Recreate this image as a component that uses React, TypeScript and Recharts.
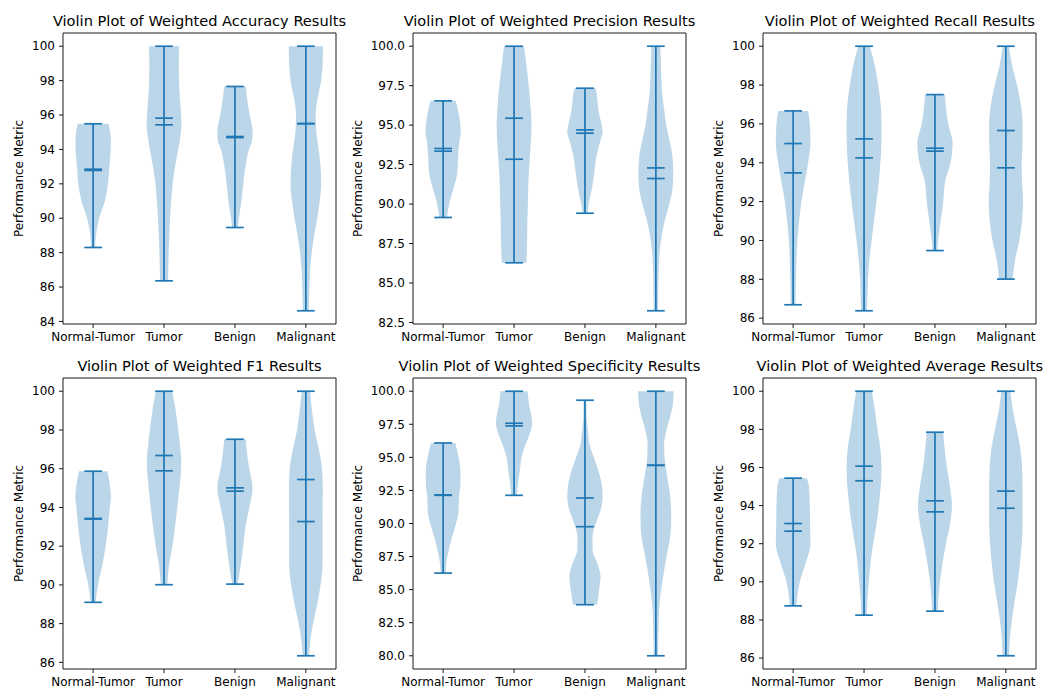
import React from 'react';
import { ComposedChart, Area, XAxis, YAxis, ReferenceLine, ReferenceArea } from 'recharts';

// ---------- shared labels ----------
const categories = ['Normal-Tumor', 'Tumor', 'Benign', 'Malignant'];
const positions = [1, 2, 3, 4];
const titles = [
  'Violin Plot of Weighted Accuracy Results',
  'Violin Plot of Weighted Precision Results',
  'Violin Plot of Weighted Recall Results',
  'Violin Plot of Weighted F1 Results',
  'Violin Plot of Weighted Specificity Results',
  'Violin Plot of Weighted Average Results',
];
const yAxisLabel = 'Performance Metric';

// ---------- tick labels ----------
const ticksTwo84 = [84, 86, 88, 90, 92, 94, 96, 98, 100];
const ticksTwo86 = [86, 88, 90, 92, 94, 96, 98, 100];
const ticksHalf825 = [82.5, 85, 87.5, 90, 92.5, 95, 97.5, 100];
const ticksHalf80 = [80, 82.5, 85, 87.5, 90, 92.5, 95, 97.5, 100];

type Shape = [number, number][]; // [value, half width of violin]

// ---------- Accuracy ----------
const accuracyMin = [88.3, 86.36, 89.46, 84.62];
const accuracyMax = [95.49, 100, 97.66, 100];
const accuracyMean = [92.85, 95.82, 94.75, 95.5];
const accuracyMedian = [92.78, 95.43, 94.69, 95.5];
const accuracyShapes: Shape[] = [
  [[95.49, 0.218], [95, 0.24], [94.5, 0.25], [94, 0.248], [93, 0.228], [92, 0.21], [91, 0.165], [90, 0.085], [89, 0.04], [88.3, 0.03]],
  [[100, 0.213], [99, 0.208], [98, 0.21], [97, 0.223], [96, 0.24], [95.5, 0.246], [95, 0.238], [94, 0.2], [93, 0.155], [92, 0.122], [91, 0.1], [90, 0.085], [89, 0.075], [88, 0.065], [87, 0.06], [86.36, 0.056]],
  [[97.66, 0.153], [97, 0.169], [96, 0.207], [95, 0.25], [94.5, 0.242], [94, 0.198], [93, 0.148], [92, 0.117], [91, 0.092], [90, 0.055], [89.46, 0.04]],
  [[100, 0.242], [99, 0.237], [98, 0.216], [97, 0.168], [96, 0.138], [95, 0.148], [94, 0.181], [93, 0.207], [92, 0.216], [91, 0.195], [90, 0.16], [89, 0.117], [88, 0.082], [87, 0.06], [86, 0.05], [85, 0.044], [84.62, 0.042]],
];

// ---------- Precision ----------
const precisionMin = [89.15, 86.28, 89.42, 83.24];
const precisionMax = [96.54, 100, 97.34, 100];
const precisionMean = [93.52, 95.44, 94.7, 92.29];
const precisionMedian = [93.35, 92.84, 94.49, 91.62];
const precisionShapes: Shape[] = [
  [[96.54, 0.176], [96, 0.207], [95, 0.244], [94.5, 0.249], [94, 0.23], [93, 0.211], [92, 0.2], [91, 0.146], [90, 0.085], [89.15, 0.054]],
  [[100, 0.141], [99, 0.169], [98, 0.195], [97, 0.218], [96, 0.235], [95, 0.246], [94, 0.237], [93, 0.223], [92, 0.209], [91, 0.2], [90, 0.195], [89, 0.188], [88, 0.185], [87, 0.181], [86.28, 0.171]],
  [[97.34, 0.15], [97, 0.164], [96, 0.188], [95, 0.235], [94.6, 0.249], [94, 0.216], [93, 0.16], [92, 0.131], [91, 0.099], [90, 0.052], [89.42, 0.035]],
  [[100, 0.063], [99, 0.07], [98, 0.077], [97, 0.089], [96, 0.117], [95, 0.146], [94, 0.195], [93, 0.235], [92, 0.246], [91, 0.235], [90, 0.19], [89, 0.129], [88, 0.082], [87, 0.054], [86, 0.042], [85, 0.035], [84, 0.033], [83.24, 0.033]],
];

// ---------- Recall ----------
const recallMin = [86.69, 86.38, 89.48, 88.01];
const recallMax = [96.67, 100, 97.51, 100];
const recallMean = [94.99, 95.23, 94.75, 95.66];
const recallMedian = [93.48, 94.25, 94.6, 93.74];
const recallShapes: Shape[] = [
  [[96.67, 0.211], [96, 0.235], [95, 0.244], [94, 0.211], [93, 0.164], [92, 0.117], [91, 0.085], [90, 0.059], [89, 0.047], [88, 0.04], [87, 0.035], [86.69, 0.033]],
  [[100, 0.082], [99, 0.153], [98, 0.2], [97, 0.235], [96, 0.246], [95, 0.244], [94, 0.23], [93, 0.207], [92, 0.176], [91, 0.141], [90, 0.106], [89, 0.075], [88, 0.056], [87, 0.047], [86.38, 0.04]],
  [[97.51, 0.141], [97, 0.15], [96, 0.188], [95, 0.249], [94, 0.22], [93, 0.141], [92, 0.117], [91, 0.08], [90, 0.045], [89.48, 0.035]],
  [[100, 0.042], [99, 0.089], [98, 0.157], [97, 0.211], [96, 0.235], [95, 0.235], [94, 0.223], [93, 0.228], [92, 0.242], [91, 0.228], [90, 0.19], [89, 0.129], [88.01, 0.094]],
];

// ---------- F1 ----------
const f1Min = [89.1, 90.01, 90.04, 86.34];
const f1Max = [95.87, 100, 97.52, 100];
const f1Mean = [93.43, 96.68, 95.01, 95.44];
const f1Median = [93.4, 95.89, 94.84, 93.27];
const f1Shapes: Shape[] = [
  [[95.87, 0.2], [95, 0.242], [94.5, 0.251], [94, 0.235], [93, 0.211], [92, 0.176], [91, 0.129], [90, 0.068], [89.1, 0.035]],
  [[100, 0.117], [99, 0.164], [98, 0.2], [97, 0.23], [96.5, 0.242], [96, 0.24], [95, 0.216], [94, 0.188], [93, 0.155], [92, 0.117], [91, 0.07], [90.01, 0.047]],
  [[97.52, 0.153], [97, 0.164], [96, 0.202], [95, 0.249], [94, 0.202], [93, 0.148], [92, 0.117], [91, 0.08], [90.04, 0.04]],
  [[100, 0.059], [99, 0.087], [98, 0.124], [97, 0.183], [96, 0.228], [95, 0.239], [94, 0.237], [93, 0.235], [92, 0.235], [91, 0.235], [90, 0.207], [89, 0.16], [88, 0.101], [87, 0.059], [86.34, 0.045]],
];

// ---------- Specificity ----------
const specificityMin = [86.25, 92.13, 83.86, 80];
const specificityMax = [96.09, 100, 99.32, 100];
const specificityMean = [92.16, 97.58, 91.93, 94.4];
const specificityMedian = [92.13, 97.38, 89.76, 94.4];
const specificityShapes: Shape[] = [
  [[96.09, 0.171], [95, 0.218], [94, 0.244], [93, 0.244], [92, 0.223], [91, 0.218], [90, 0.183], [89, 0.127], [88, 0.08], [87, 0.045], [86.25, 0.035]],
  [[100, 0.192], [99, 0.211], [98, 0.249], [97.5, 0.254], [97, 0.235], [96, 0.164], [95, 0.106], [94, 0.082], [93, 0.054], [92.13, 0.042]],
  [[99.32, 0.02], [98, 0.023], [97, 0.042], [96, 0.063], [95, 0.124], [94, 0.188], [93, 0.235], [92, 0.249], [91, 0.22], [90, 0.153], [89, 0.106], [88, 0.108], [87, 0.174], [86, 0.22], [85, 0.2], [84, 0.174], [83.86, 0.17]],
  [[100, 0.251], [99, 0.239], [98, 0.197], [97, 0.146], [96, 0.117], [95, 0.122], [94, 0.146], [93, 0.176], [92, 0.202], [91, 0.216], [90, 0.216], [89, 0.202], [88, 0.169], [87, 0.134], [86, 0.103], [85, 0.075], [84, 0.054], [83, 0.042], [82, 0.038], [81, 0.033], [80, 0.033]],
];

// ---------- Average ----------
const averageMin = [88.74, 88.25, 88.46, 86.12];
const averageMax = [95.44, 100, 97.85, 100];
const averageMean = [93.06, 96.07, 94.25, 94.76];
const averageMedian = [92.66, 95.3, 93.67, 93.86];
const averageShapes: Shape[] = [
  [[95.44, 0.192], [95, 0.223], [94, 0.235], [93, 0.239], [92, 0.244], [91, 0.178], [90, 0.094], [89, 0.052], [88.74, 0.045]],
  [[100, 0.11], [99, 0.153], [98, 0.188], [97, 0.23], [96, 0.246], [95, 0.235], [94, 0.209], [93, 0.174], [92, 0.129], [91, 0.092], [90, 0.068], [89, 0.047], [88.25, 0.038]],
  [[97.85, 0.117], [97, 0.136], [96, 0.169], [95, 0.211], [94, 0.239], [93, 0.211], [92, 0.155], [91, 0.108], [90, 0.07], [89, 0.047], [88.46, 0.04]],
  [[100, 0.063], [99, 0.099], [98, 0.153], [97, 0.204], [96, 0.228], [95, 0.235], [94, 0.235], [93, 0.235], [92, 0.223], [91, 0.2], [90, 0.169], [89, 0.124], [88, 0.085], [87, 0.056], [86.12, 0.047]],
];

// ---------- panels table ----------
interface Panel {
  title: string;
  mins: number[];
  maxs: number[];
  means: number[];
  medians: number[];
  shapes: Shape[];
  ticks: number[];
  decimals: number;
}
const panels: Panel[] = [
  { title: titles[0], mins: accuracyMin, maxs: accuracyMax, means: accuracyMean, medians: accuracyMedian, shapes: accuracyShapes, ticks: ticksTwo84, decimals: 0 },
  { title: titles[1], mins: precisionMin, maxs: precisionMax, means: precisionMean, medians: precisionMedian, shapes: precisionShapes, ticks: ticksHalf825, decimals: 1 },
  { title: titles[2], mins: recallMin, maxs: recallMax, means: recallMean, medians: recallMedian, shapes: recallShapes, ticks: ticksTwo86, decimals: 0 },
  { title: titles[3], mins: f1Min, maxs: f1Max, means: f1Mean, medians: f1Median, shapes: f1Shapes, ticks: ticksTwo86, decimals: 0 },
  { title: titles[4], mins: specificityMin, maxs: specificityMax, means: specificityMean, medians: specificityMedian, shapes: specificityShapes, ticks: ticksHalf80, decimals: 1 },
  { title: titles[5], mins: averageMin, maxs: averageMax, means: averageMean, medians: averageMedian, shapes: averageShapes, ticks: ticksTwo86, decimals: 0 },
];

// ---------- layout ----------
const FONT = '"DejaVu Sans", sans-serif';
const C0 = '#1f77b4';
const COL_LEFT = [63, 413, 763.3];
const ROW_TOP = [33.3, 378.3];
const PLOT_W = 273;
const PLOT_H = 291;
const AX_W = 70;
const TOP_M = 30;
const AX_H = 40;
const RIGHT_M = 10;
const CAP = 0.125;
const X_DOMAIN: [number, number] = [0.575, 4.425];
const TICK_FS = 12;
const TITLE_FS = 14.6;

function ViolinPanel({ p, left, top }: { p: Panel; left: number; top: number }) {
  const lo = Math.min(...p.mins);
  const hi = Math.max(...p.maxs);
  const pad = (hi - lo) * 0.05;
  const yDomain: [number, number] = [lo - pad, hi + pad];
  const labelGap = p.decimals ? 55.3 : 43.8;
  const lineProps = { stroke: C0, strokeWidth: 1.7, ifOverflow: 'visible' as const };
  return (
    <>
      <div
        style={{
          position: 'absolute',
          left: left + PLOT_W / 2 - 200,
          width: 400,
          top: top - 7 - 13.05,
          textAlign: 'center',
          fontFamily: FONT,
          fontSize: TITLE_FS,
          lineHeight: '16px',
          whiteSpace: 'nowrap',
          color: '#000',
        }}
      >
        {p.title}
      </div>
      <div style={{ position: 'absolute', left: left - AX_W, top: top - TOP_M }}>
        <ComposedChart
          layout="vertical"
          width={PLOT_W + AX_W + RIGHT_M}
          height={PLOT_H + TOP_M + AX_H}
          margin={{ top: TOP_M, right: RIGHT_M, bottom: 0, left: 0 }}
        >
          <XAxis
            type="number"
            domain={X_DOMAIN}
            allowDataOverflow
            ticks={positions}
            interval={0}
            tickFormatter={(v: number) => categories[Math.round(v) - 1]}
            height={AX_H}
            axisLine={false}
            tickLine={{ stroke: '#000', strokeWidth: 0.9 }}
            tickSize={4}
            tickMargin={4.3}
            tick={{ fill: '#000', fontSize: TICK_FS, fontFamily: FONT }}
          />
          <YAxis
            type="number"
            dataKey="v"
            reversed
            domain={yDomain}
            allowDataOverflow
            ticks={p.ticks}
            interval={0}
            tickFormatter={(v: number) => v.toFixed(p.decimals)}
            width={AX_W}
            axisLine={false}
            tickLine={{ stroke: '#000', strokeWidth: 0.9 }}
            tickSize={4}
            tickMargin={4}
            tick={{ fill: '#000', fontSize: TICK_FS, fontFamily: FONT }}
            label={{
              value: yAxisLabel,
              angle: -90,
              position: 'insideLeft',
              offset: AX_W - labelGap,
              style: { textAnchor: 'middle', fill: '#000', fontSize: TICK_FS, fontFamily: FONT },
            }}
          />
          {p.shapes.map((s, i) => (
            <Area
              key={'a' + i}
              data={s.map(([v, w]) => ({ v, r: [positions[i] - w, positions[i] + w] }))}
              dataKey="r"
              type="monotone"
              fill={C0}
              fillOpacity={0.3}
              stroke="none"
              dot={false}
              activeDot={false}
              isAnimationActive={false}
            />
          ))}
          {positions.map((x, i) => (
            <ReferenceLine
              key={'v' + i}
              segment={[{ x, y: p.mins[i] }, { x, y: p.maxs[i] }]}
              {...lineProps}
            />
          ))}
          {positions.map((x, i) =>
            [p.mins[i], p.maxs[i], p.means[i], p.medians[i]].map((y, j) => (
              <ReferenceLine
                key={'c' + i + '-' + j}
                segment={[{ x: x - CAP, y }, { x: x + CAP, y }]}
                {...lineProps}
              />
            ))
          )}
          <ReferenceArea
            x1={X_DOMAIN[0]}
            x2={X_DOMAIN[1]}
            y1={yDomain[0]}
            y2={yDomain[1]}
            fill="none"
            stroke="#000"
            strokeWidth={0.9}
            ifOverflow="visible"
          />
        </ComposedChart>
      </div>
    </>
  );
}

export default function App() {
  return (
    <div style={{ position: 'absolute', left: 0, top: 0, width: 1044, height: 691, background: '#fff', overflow: 'hidden' }}>
      {panels.map((p, k) => (
        <ViolinPanel key={k} p={p} left={COL_LEFT[k % 3]} top={ROW_TOP[Math.floor(k / 3)]} />
      ))}
    </div>
  );
}
